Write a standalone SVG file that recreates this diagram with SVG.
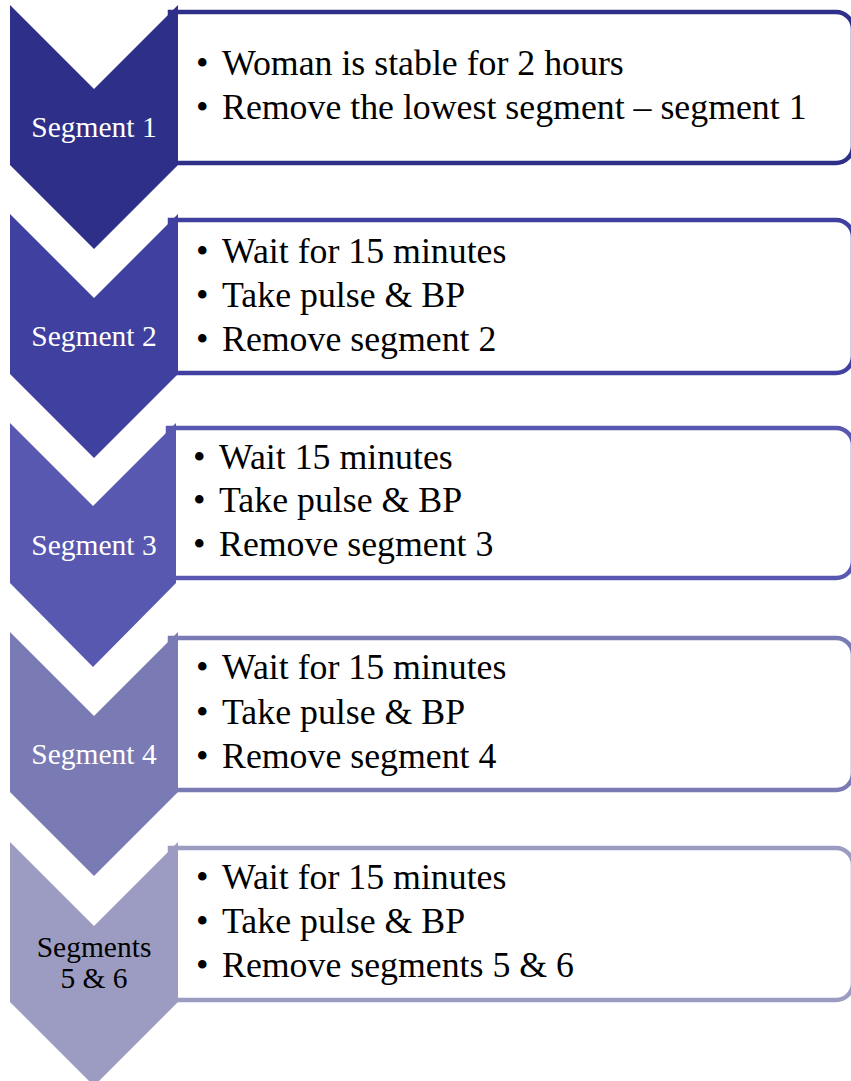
<svg xmlns="http://www.w3.org/2000/svg" width="851" height="1081" viewBox="0 0 851 1081">
<style>
.box{fill:#fff;stroke-width:4.5}
.t{font-family:"Liberation Serif",serif;font-size:35.8px;fill:#000}
.lab{font-family:"Liberation Serif",serif;font-size:29.5px;fill:#fff;text-anchor:middle}
</style>
<rect width="851" height="1081" fill="#fff"/>
<g id="connectors"></g>
<g id="node1">
<path class="box" stroke="#2E2F88" d="M170 12 H836 a17 17 0 0 1 17 17 V146 a17 17 0 0 1 -17 17 H170 Z"/>
<path fill="#2E2F88" d="M10 5 L94 89 L178 5 L178 165 L94 249 L10 165 Z"/>
<text class="lab" x="94" y="137">Segment 1</text>
<text class="t" x="196" y="75">•</text><text class="t" x="222" y="75">Woman is stable for 2 hours</text>
<text class="t" x="196" y="119">•</text><text class="t" x="222" y="119">Remove the lowest segment – segment 1</text>
</g>
<g id="node2">
<path class="box" stroke="#3F40A0" d="M170 220 H836 a17 17 0 0 1 17 17 V356 a17 17 0 0 1 -17 17 H170 Z"/>
<path fill="#3F40A0" d="M10 214 L94 298 L178 214 L178 374 L94 458 L10 374 Z"/>
<text class="lab" x="94" y="346">Segment 2</text>
<text class="t" x="196" y="263">•</text><text class="t" x="222" y="263">Wait for 15 minutes</text>
<text class="t" x="196" y="307">•</text><text class="t" x="222" y="307">Take pulse &amp; BP</text>
<text class="t" x="196" y="351">•</text><text class="t" x="222" y="351">Remove segment 2</text>
</g>
<g id="node3">
<path class="box" stroke="#5858B0" d="M168 428 H836 a17 17 0 0 1 17 17 V561 a17 17 0 0 1 -17 17 H168 Z"/>
<path fill="#5858B0" d="M10 423 L93 506 L176 423 L176 583 L93 667 L10 583 Z"/>
<text class="lab" x="94" y="555">Segment 3</text>
<text class="t" x="193" y="469">•</text><text class="t" x="219" y="469">Wait 15 minutes</text>
<text class="t" x="193" y="512">•</text><text class="t" x="219" y="512">Take pulse &amp; BP</text>
<text class="t" x="193" y="556">•</text><text class="t" x="219" y="556">Remove segment 3</text>
</g>
<g id="node4">
<path class="box" stroke="#7A7AB4" d="M170 638 H836 a17 17 0 0 1 17 17 V773 a17 17 0 0 1 -17 17 H170 Z"/>
<path fill="#7A7AB4" d="M10 632 L94 716 L178 632 L178 792 L94 876 L10 792 Z"/>
<text class="lab" x="94" y="764">Segment 4</text>
<text class="t" x="196" y="679">•</text><text class="t" x="222" y="679">Wait for 15 minutes</text>
<text class="t" x="196" y="724">•</text><text class="t" x="222" y="724">Take pulse &amp; BP</text>
<text class="t" x="196" y="768">•</text><text class="t" x="222" y="768">Remove segment 4</text>
</g>
<g id="node5">
<path class="box" stroke="#9C9CC2" d="M170 848 H836 a17 17 0 0 1 17 17 V983 a17 17 0 0 1 -17 17 H170 Z"/>
<path fill="#9C9CC2" d="M10 842 L94 926 L178 842 L178 1002 L94 1086 L10 1002 Z"/>
<text class="lab" x="94" y="957" style="fill:#000">Segments</text>
<text class="lab" x="94" y="988" style="fill:#000">5 &amp; 6</text>
<text class="t" x="196" y="889">•</text><text class="t" x="222" y="889">Wait for 15 minutes</text>
<text class="t" x="196" y="933">•</text><text class="t" x="222" y="933">Take pulse &amp; BP</text>
<text class="t" x="196" y="977">•</text><text class="t" x="222" y="977">Remove segments 5 &amp; 6</text>
</g>
</svg>
